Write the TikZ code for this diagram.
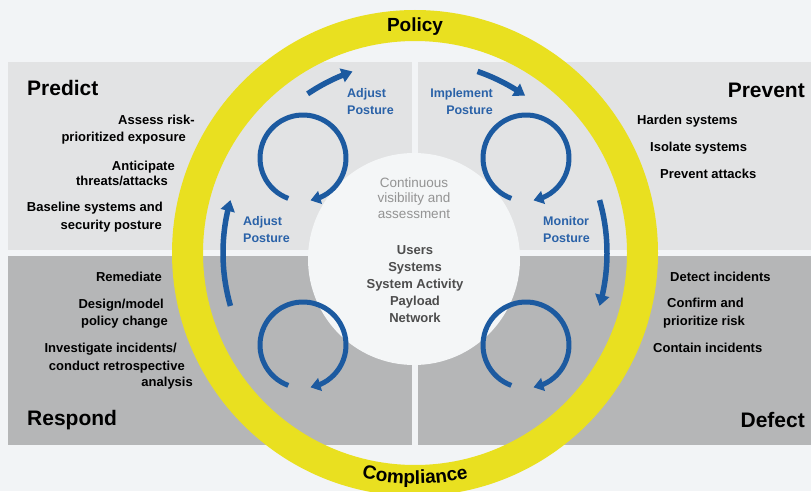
\documentclass[tikz,border=0pt]{standalone}
\usepackage{fontspec}
\setmainfont{Liberation Sans}
\usetikzlibrary{arrows.meta,bending,calc,decorations.text}
\definecolor{bgc}{HTML}{F2F4F6}
\definecolor{lightp}{HTML}{E2E3E4}
\definecolor{darkp}{HTML}{B5B6B7}
\definecolor{yellowc}{HTML}{E9E020}
\definecolor{bluec}{HTML}{1C5AA0}
\definecolor{bluelbl}{HTML}{2A62A8}
\definecolor{centerc}{HTML}{F4F6F7}
\definecolor{graytxt}{HTML}{939393}
\definecolor{darktxt}{HTML}{4D4D4D}
\begin{document}
\begin{tikzpicture}[x=1pt,y=1pt,
  bluearc/.style={draw=bluec, line width=5.5pt, -{Triangle[length=11pt,width=14pt]}},
  smallarc/.style={draw=bluec, line width=5pt, -{Triangle[length=10pt,width=13pt]}},
  lbl/.style={text=bluelbl, font=\fontsize{12.5}{17}\selectfont\bfseries, inner sep=0pt},
  item/.style={text=black, font=\fontsize{13}{17}\selectfont\bfseries, inner sep=0pt, text height=9.5pt, text depth=2.5pt},
  head/.style={text=black, font=\fontsize{21}{24}\selectfont\bfseries, inner sep=0pt},
  lightpanel/.style={fill=lightp, draw=none},
  darkpanel/.style={fill=darkp, draw=none}]
\useasboundingbox (0,0) rectangle (811,491);
\fill[bgc] (0,0) rectangle (811,491);
% panels
\path[lightpanel] (8,241) rectangle (412,429);
\path[lightpanel] (418,241) rectangle (811,429);
\path[darkpanel] (8,46) rectangle (412,235);
\path[darkpanel] (418,46) rectangle (811,235);
% ring
\coordinate (rc) at (415,238);
\draw[yellowc, line width=31pt] (rc) circle[radius=227.5];
% center circle
\coordinate (cc) at (414,232);
\fill[centerc] (cc) circle[radius=106];
% small cycle arrows
\coordinate (tlc) at (303,333);
\coordinate (trc) at (526,333);
\coordinate (blc) at (303,146);
\coordinate (brc) at (526,146);
\foreach \c in {tlc,trc,blc,brc}{
  \draw[smallarc] ($(\c)+(250:43)$) arc[start angle=250, end angle=-80, radius=43];
}
% outer arrows
\draw[bluearc] ($(rc)+(124:192)$) arc[start angle=124, end angle=109, radius=192];
\draw[bluearc] ($(rc)+(71:192)$) arc[start angle=71, end angle=55, radius=192];
\draw[bluearc] ($(rc)+(16:192)$) arc[start angle=16, end angle=-16, radius=192];
\draw[bluearc] ($(rc)+(196:192)$) arc[start angle=196, end angle=164, radius=192];
% blue labels
\node[lbl, anchor=west, align=left] (adj1) at (347,389) {Adjust\\Posture};
\node[lbl, anchor=west, align=left] (adj2) at (243,261) {Adjust\\Posture};
\node[lbl, anchor=east, align=right] (impl) at (493,389) {Implement\\Posture};
\node[lbl, anchor=west, align=left] (mon) at (543,261) {Monitor\\Posture};
% headers
\node[head, anchor=west] (hpred) at (27,403) {Predict};
\node[head, anchor=east] (hprev) at (805,401) {Prevent};
\node[head, anchor=west] (hresp) at (27,71) {Respond};
\node[head, anchor=east] (hdef) at (805,71) {Defect};
% Predict items
\node[item, anchor=east] (p1) at (195,370) {Assess risk-};
\node[item, anchor=east] (p2) at (186,353) {prioritized exposure};
\node[item, anchor=east] (p3) at (175,324) {Anticipate};
\node[item, anchor=east] (p4) at (168,309) {threats/attacks};
\node[item, anchor=east] (p5) at (163,283) {Baseline systems and};
\node[item, anchor=east] (p6) at (162,265) {security posture};
% Prevent items
\node[item, anchor=west] (v1) at (637,370) {Harden systems};
\node[item, anchor=west] (v2) at (650,343) {Isolate systems};
\node[item, anchor=west] (v3) at (660,316) {Prevent attacks};
% Defect items
\node[item, anchor=west] (d1) at (670,213) {Detect incidents};
\node[item, anchor=west] (d2) at (667,187) {Confirm and};
\node[item, anchor=west] (d3) at (663,169) {prioritize risk};
\node[item, anchor=west] (d4) at (653,142) {Contain incidents};
% Respond items
\node[item, anchor=east] (r1) at (162,213) {Remediate};
\node[item, anchor=east] (r2) at (164,186) {Design/model};
\node[item, anchor=east] (r3) at (168,169) {policy change};
\node[item, anchor=east] (r4) at (177,142) {Investigate incidents/};
\node[item, anchor=east] (r5) at (185,124) {conduct retrospective};
\node[item, anchor=east] (r6) at (193,108) {analysis};
% center texts
\node[text=graytxt, font=\fontsize{13.5}{15.5}\selectfont, align=center, inner sep=0pt] (cvis) at (414,293) {Continuous\\visibility and\\assessment};
\node[text=darktxt, font=\fontsize{13}{17}\selectfont\bfseries, align=center, inner sep=0pt] (clist) at (415,207) {Users\\Systems\\System Activity\\Payload\\Network};
% ring labels
\node[text=black, font=\fontsize{19}{22}\selectfont\bfseries, inner sep=0pt] (policy) at (415,464) {Policy};
\path[decorate, decoration={text along path, text align=center,
  text={|\fontsize{19}{22}\selectfont\bfseries|Compliance}}]
  ($(rc)+(250:231)$) arc[start angle=250, end angle=290, radius=231];
\end{tikzpicture}
\end{document}
